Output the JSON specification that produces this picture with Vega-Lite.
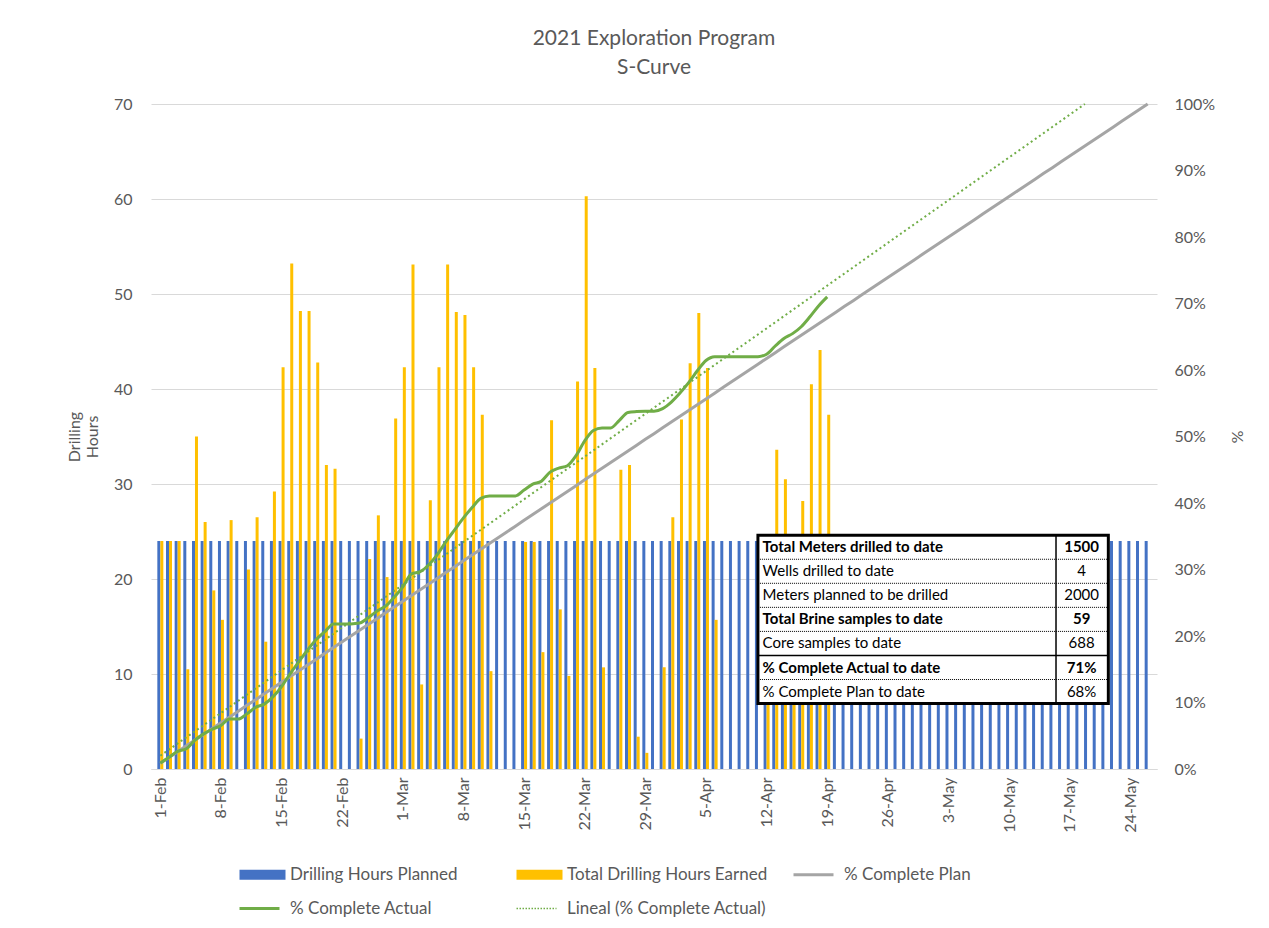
{
  "$schema": "https://vega.github.io/schema/vega-lite/v6.json",
  "width": 1006,
  "height": 665,
  "autosize": {"type": "none"},
  "padding": {"left": 151, "top": 104, "right": 112, "bottom": 159},
  "background": "white",
  "title": {"text": ["2021 Exploration Program", "S-Curve"], "anchor": "middle", "font": "Lato", "fontSize": 21, "fontWeight": "normal", "color": "#595959", "lineHeight": 29, "offset": 18, "frame": "group"},
  "config": {
    "view": {"stroke": null},
    "font": "Lato",
    "axis": {"labelFont": "Lato", "titleFont": "Lato", "labelColor": "#595959", "titleColor": "#595959", "labelFontSize": 16, "titleFontSize": 16, "titleFontWeight": "normal", "ticks": false}
  },
  "datasets": {
    "days": [
      {"d":"2021-02-01","planned":24,"earned":24,"plan":0.0087,"actual":0.0088},
      {"d":"2021-02-02","planned":24,"earned":24,"plan":0.0174,"actual":0.0177},
      {"d":"2021-02-03","planned":24,"earned":24,"plan":0.0261,"actual":0.0265},
      {"d":"2021-02-04","planned":24,"earned":10.5,"plan":0.0348,"actual":0.0304},
      {"d":"2021-02-05","planned":24,"earned":35,"plan":0.0435,"actual":0.0433},
      {"d":"2021-02-06","planned":24,"earned":26,"plan":0.0522,"actual":0.0528},
      {"d":"2021-02-07","planned":24,"earned":18.8,"plan":0.0609,"actual":0.0598},
      {"d":"2021-02-08","planned":24,"earned":15.7,"plan":0.0696,"actual":0.0655},
      {"d":"2021-02-09","planned":24,"earned":26.2,"plan":0.0783,"actual":0.0752},
      {"d":"2021-02-10","planned":24,"plan":0.0870,"actual":0.0752},
      {"d":"2021-02-11","planned":24,"earned":21,"plan":0.0957,"actual":0.0829},
      {"d":"2021-02-12","planned":24,"earned":26.5,"plan":0.1043,"actual":0.0927},
      {"d":"2021-02-13","planned":24,"earned":13.4,"plan":0.1130,"actual":0.0976},
      {"d":"2021-02-14","planned":24,"earned":29.2,"plan":0.1217,"actual":0.1084},
      {"d":"2021-02-15","planned":24,"earned":42.3,"plan":0.1304,"actual":0.1239},
      {"d":"2021-02-16","planned":24,"earned":53.2,"plan":0.1391,"actual":0.1435},
      {"d":"2021-02-17","planned":24,"earned":48.2,"plan":0.1478,"actual":0.1613},
      {"d":"2021-02-18","planned":24,"earned":48.2,"plan":0.1565,"actual":0.1790},
      {"d":"2021-02-19","planned":24,"earned":42.8,"plan":0.1652,"actual":0.1948},
      {"d":"2021-02-20","planned":24,"earned":32,"plan":0.1739,"actual":0.2066},
      {"d":"2021-02-21","planned":24,"earned":31.6,"plan":0.1826,"actual":0.2182},
      {"d":"2021-02-22","planned":24,"plan":0.1913,"actual":0.2182},
      {"d":"2021-02-23","planned":24,"plan":0.2000,"actual":0.2182},
      {"d":"2021-02-24","planned":24,"earned":3.2,"plan":0.2087,"actual":0.2194},
      {"d":"2021-02-25","planned":24,"earned":22.1,"plan":0.2174,"actual":0.2275},
      {"d":"2021-02-26","planned":24,"earned":26.7,"plan":0.2261,"actual":0.2373},
      {"d":"2021-02-27","planned":24,"earned":20.2,"plan":0.2348,"actual":0.2448},
      {"d":"2021-02-28","planned":24,"earned":36.9,"plan":0.2435,"actual":0.2584},
      {"d":"2021-03-01","planned":24,"earned":42.3,"plan":0.2522,"actual":0.2739},
      {"d":"2021-03-02","planned":24,"earned":53.1,"plan":0.2609,"actual":0.2935},
      {"d":"2021-03-03","planned":24,"earned":8.9,"plan":0.2696,"actual":0.2968},
      {"d":"2021-03-04","planned":24,"earned":28.3,"plan":0.2783,"actual":0.3072},
      {"d":"2021-03-05","planned":24,"earned":42.3,"plan":0.2870,"actual":0.3227},
      {"d":"2021-03-06","planned":24,"earned":53.1,"plan":0.2957,"actual":0.3423},
      {"d":"2021-03-07","planned":24,"earned":48.1,"plan":0.3043,"actual":0.3600},
      {"d":"2021-03-08","planned":24,"earned":47.8,"plan":0.3130,"actual":0.3776},
      {"d":"2021-03-09","planned":24,"earned":42.3,"plan":0.3217,"actual":0.3932},
      {"d":"2021-03-10","planned":24,"earned":37.3,"plan":0.3304,"actual":0.4069},
      {"d":"2021-03-11","planned":24,"earned":10.3,"plan":0.3391,"actual":0.4107},
      {"d":"2021-03-12","planned":24,"plan":0.3478,"actual":0.4107},
      {"d":"2021-03-13","planned":24,"plan":0.3565,"actual":0.4107},
      {"d":"2021-03-14","planned":24,"plan":0.3652,"actual":0.4107},
      {"d":"2021-03-15","planned":24,"earned":23.9,"plan":0.3739,"actual":0.4195},
      {"d":"2021-03-16","planned":24,"earned":23.9,"plan":0.3826,"actual":0.4283},
      {"d":"2021-03-17","planned":24,"earned":12.3,"plan":0.3913,"actual":0.4328},
      {"d":"2021-03-18","planned":24,"earned":36.7,"plan":0.4000,"actual":0.4464},
      {"d":"2021-03-19","planned":24,"earned":16.8,"plan":0.4087,"actual":0.4525},
      {"d":"2021-03-20","planned":24,"earned":9.8,"plan":0.4174,"actual":0.4561},
      {"d":"2021-03-21","planned":24,"earned":40.8,"plan":0.4261,"actual":0.4712},
      {"d":"2021-03-22","planned":24,"earned":60.3,"plan":0.4348,"actual":0.4934},
      {"d":"2021-03-23","planned":24,"earned":42.2,"plan":0.4435,"actual":0.5089},
      {"d":"2021-03-24","planned":24,"earned":10.7,"plan":0.4522,"actual":0.5128},
      {"d":"2021-03-25","planned":24,"plan":0.4609,"actual":0.5128},
      {"d":"2021-03-26","planned":24,"earned":31.5,"plan":0.4696,"actual":0.5244},
      {"d":"2021-03-27","planned":24,"earned":32,"plan":0.4783,"actual":0.5362},
      {"d":"2021-03-28","planned":24,"earned":3.4,"plan":0.4870,"actual":0.5375},
      {"d":"2021-03-29","planned":24,"earned":1.7,"plan":0.4957,"actual":0.5381},
      {"d":"2021-03-30","planned":24,"plan":0.5043,"actual":0.5381},
      {"d":"2021-03-31","planned":24,"earned":10.7,"plan":0.5130,"actual":0.5420},
      {"d":"2021-04-01","planned":24,"earned":26.5,"plan":0.5217,"actual":0.5518},
      {"d":"2021-04-02","planned":24,"earned":36.8,"plan":0.5304,"actual":0.5654},
      {"d":"2021-04-03","planned":24,"earned":42.7,"plan":0.5391,"actual":0.5811},
      {"d":"2021-04-04","planned":24,"earned":48,"plan":0.5478,"actual":0.5988},
      {"d":"2021-04-05","planned":24,"earned":42.2,"plan":0.5565,"actual":0.6143},
      {"d":"2021-04-06","planned":24,"earned":15.7,"plan":0.5652,"actual":0.6201},
      {"d":"2021-04-07","planned":24,"plan":0.5739,"actual":0.6201},
      {"d":"2021-04-08","planned":24,"plan":0.5826,"actual":0.6201},
      {"d":"2021-04-09","planned":24,"plan":0.5913,"actual":0.6201},
      {"d":"2021-04-10","planned":24,"plan":0.6000,"actual":0.6201},
      {"d":"2021-04-11","planned":24,"plan":0.6087,"actual":0.6201},
      {"d":"2021-04-12","planned":24,"earned":10,"plan":0.6174,"actual":0.6237},
      {"d":"2021-04-13","planned":24,"earned":33.6,"plan":0.6261,"actual":0.6361},
      {"d":"2021-04-14","planned":24,"earned":30.5,"plan":0.6348,"actual":0.6473},
      {"d":"2021-04-15","planned":24,"earned":20,"plan":0.6435,"actual":0.6547},
      {"d":"2021-04-16","planned":24,"earned":28.2,"plan":0.6522,"actual":0.6651},
      {"d":"2021-04-17","planned":24,"earned":40.5,"plan":0.6609,"actual":0.6800},
      {"d":"2021-04-18","planned":24,"earned":44.1,"plan":0.6696,"actual":0.6963},
      {"d":"2021-04-19","planned":24,"earned":37.3,"plan":0.6783,"actual":0.7100},
      {"d":"2021-04-20","planned":24,"plan":0.6870},
      {"d":"2021-04-21","planned":24,"plan":0.6957},
      {"d":"2021-04-22","planned":24,"plan":0.7043},
      {"d":"2021-04-23","planned":24,"plan":0.7130},
      {"d":"2021-04-24","planned":24,"plan":0.7217},
      {"d":"2021-04-25","planned":24,"plan":0.7304},
      {"d":"2021-04-26","planned":24,"plan":0.7391},
      {"d":"2021-04-27","planned":24,"plan":0.7478},
      {"d":"2021-04-28","planned":24,"plan":0.7565},
      {"d":"2021-04-29","planned":24,"plan":0.7652},
      {"d":"2021-04-30","planned":24,"plan":0.7739},
      {"d":"2021-05-01","planned":24,"plan":0.7826},
      {"d":"2021-05-02","planned":24,"plan":0.7913},
      {"d":"2021-05-03","planned":24,"plan":0.8000},
      {"d":"2021-05-04","planned":24,"plan":0.8087},
      {"d":"2021-05-05","planned":24,"plan":0.8174},
      {"d":"2021-05-06","planned":24,"plan":0.8261},
      {"d":"2021-05-07","planned":24,"plan":0.8348},
      {"d":"2021-05-08","planned":24,"plan":0.8435},
      {"d":"2021-05-09","planned":24,"plan":0.8522},
      {"d":"2021-05-10","planned":24,"plan":0.8609},
      {"d":"2021-05-11","planned":24,"plan":0.8696},
      {"d":"2021-05-12","planned":24,"plan":0.8783},
      {"d":"2021-05-13","planned":24,"plan":0.8870},
      {"d":"2021-05-14","planned":24,"plan":0.8957},
      {"d":"2021-05-15","planned":24,"plan":0.9043},
      {"d":"2021-05-16","planned":24,"plan":0.9130},
      {"d":"2021-05-17","planned":24,"plan":0.9217},
      {"d":"2021-05-18","planned":24,"plan":0.9304},
      {"d":"2021-05-19","planned":24,"plan":0.9391},
      {"d":"2021-05-20","planned":24,"plan":0.9478},
      {"d":"2021-05-21","planned":24,"plan":0.9565},
      {"d":"2021-05-22","planned":24,"plan":0.9652},
      {"d":"2021-05-23","planned":24,"plan":0.9739},
      {"d":"2021-05-24","planned":24,"plan":0.9826},
      {"d":"2021-05-25","planned":24,"plan":0.9913},
      {"d":"2021-05-26","planned":24,"plan":1.0}
    ],
    "trend": [
      {"d":"2021-02-01","trend":0.02},
      {"d":"2021-05-18T18:00:00Z","trend":1.0}
    ],
    "table": [
      {"row":1,"label":"Total Meters drilled to date","value":"1500"},
      {"row":2,"label":"Wells drilled to date","value":"4"},
      {"row":3,"label":"Meters planned to be drilled","value":"2000"},
      {"row":4,"label":"Total Brine samples to date","value":"59"},
      {"row":5,"label":"Core samples to date","value":"688"},
      {"row":6,"label":"% Complete Actual to date","value":"71%"},
      {"row":7,"label":"% Complete Plan to date","value":"68%"}
    ]
  },
  "data": {"name": "days"},
  "layer": [
    {
      "layer": [
        {
          "mark": {"type": "bar", "width": 3, "xOffset": -1.5},
          "encoding": {
            "x": {"field": "d", "type": "temporal",
              "scale": {"type": "utc", "domain": [{"year":2021,"month":1,"date":31,"hours":12,"utc":true},{"year":2021,"month":5,"date":26,"hours":12,"utc":true}]},
              "axis": {"title": null, "format": "%-d-%b", "labelAngle": -90, "labelPadding": 8, "labelOverlap": false, "grid": false, "domainColor": "#D9D9D9", "domainWidth": 1,
                "values": [
                  {"year":2021,"month":2,"date":1,"utc":true},{"year":2021,"month":2,"date":8,"utc":true},{"year":2021,"month":2,"date":15,"utc":true},{"year":2021,"month":2,"date":22,"utc":true},
                  {"year":2021,"month":3,"date":1,"utc":true},{"year":2021,"month":3,"date":8,"utc":true},{"year":2021,"month":3,"date":15,"utc":true},{"year":2021,"month":3,"date":22,"utc":true},{"year":2021,"month":3,"date":29,"utc":true},
                  {"year":2021,"month":4,"date":5,"utc":true},{"year":2021,"month":4,"date":12,"utc":true},{"year":2021,"month":4,"date":19,"utc":true},{"year":2021,"month":4,"date":26,"utc":true},
                  {"year":2021,"month":5,"date":3,"utc":true},{"year":2021,"month":5,"date":10,"utc":true},{"year":2021,"month":5,"date":17,"utc":true},{"year":2021,"month":5,"date":24,"utc":true}
                ]}},
            "y": {"field": "planned", "type": "quantitative", "title": ["Drilling", "Hours"],
              "scale": {"domain": [0, 70], "nice": false},
              "axis": {"orient": "left", "values": [0,10,20,30,40,50,60,70], "grid": true, "gridColor": "#D9D9D9", "domain": false, "labelPadding": 19, "titlePadding": 13}},
            "color": {"datum": "Drilling Hours Planned",
              "scale": {"domain": ["Drilling Hours Planned", "Total Drilling Hours Earned", "% Complete Plan", "% Complete Actual", "Lineal (% Complete Actual)"],
                        "range": ["#4472C4", "#FFC000", "#A5A5A5", "#70AD47", "#70AD47"]},
              "legend": {
                "title": null, "orient": "none", "legendX": 90, "legendY": 762, "direction": "horizontal", "columns": 3, "gridAlign": "all",
                "columnPadding": 19, "rowPadding": 16, "padding": 0,
                "symbolSize": 400, "symbolType": "M-1,-0.5H3.6V0.5H-1Z", "labelOffset": 32,
                "labelFont": "Lato", "labelFontSize": 17, "labelColor": "#595959", "labelLimit": 400,
                "encode": {"symbols": {"update": {
                  "shape": {"signal": "(datum.value == 'Drilling Hours Planned' || datum.value == 'Total Drilling Hours Earned') ? 'M-1,-0.5H3.6V0.5H-1Z' : 'M-1,0H3'"},
                  "fill": {"signal": "datum.value == 'Drilling Hours Planned' ? '#4472C4' : (datum.value == 'Total Drilling Hours Earned' ? '#FFC000' : 'transparent')"},
                  "stroke": {"signal": "datum.value == '% Complete Plan' ? '#A5A5A5' : ((datum.value == '% Complete Actual' || datum.value == 'Lineal (% Complete Actual)') ? '#70AD47' : 'transparent')"},
                  "strokeWidth": {"signal": "datum.value == 'Lineal (% Complete Actual)' ? 1.5 : ((datum.value == 'Drilling Hours Planned' || datum.value == 'Total Drilling Hours Earned') ? 0 : 3)"},
                  "strokeDash": {"signal": "datum.value == 'Lineal (% Complete Actual)' ? [1.5, 1.5] : [1, 0]"},
                  "strokeCap": {"value": "butt"},
                  "opacity": {"value": 1}
                }}}
              }}
          }
        },
        {
          "mark": {"type": "bar", "width": 3, "xOffset": 1.5},
          "encoding": {
            "x": {"field": "d", "type": "temporal"},
            "y": {"field": "earned", "type": "quantitative", "title": ["Drilling", "Hours"]},
            "color": {"datum": "Total Drilling Hours Earned"}
          }
        }
      ]
    },
    {
      "data": {"name": "table"},
      "encoding": {
        "y": {"field": "row", "type": "quantitative", "scale": {"domain": [-17.43, 10.22], "reverse": true, "nice": false, "zero": false}, "axis": null}
      },
      "layer": [
        {
          "transform": [{"filter": "datum.row == 1"}],
          "mark": {"type": "rect", "fill": "white", "stroke": "black", "strokeWidth": 3},
          "encoding": {
            "x": {"datum": {"year":2021,"month":4,"date":11,"utc":true}, "type": "temporal"},
            "x2": {"datum": {"year":2021,"month":5,"date":21,"hours":11,"utc":true}},
            "y": {"datum": 0.5, "type": "quantitative"},
            "y2": {"datum": 7.5}
          }
        },
        {
          "transform": [{"filter": "datum.row <= 6 && datum.row != 5"}],
          "mark": {"type": "rule", "color": "black", "strokeWidth": 1, "strokeDash": [1, 1], "yOffset": 12},
          "encoding": {
            "x": {"datum": {"year":2021,"month":4,"date":11,"utc":true}, "type": "temporal"},
            "x2": {"datum": {"year":2021,"month":5,"date":21,"hours":11,"utc":true}}
          }
        },
        {
          "transform": [{"filter": "datum.row == 5"}],
          "mark": {"type": "rule", "color": "black", "strokeWidth": 1.5, "yOffset": 12},
          "encoding": {
            "x": {"datum": {"year":2021,"month":4,"date":11,"utc":true}, "type": "temporal"},
            "x2": {"datum": {"year":2021,"month":5,"date":21,"hours":11,"utc":true}}
          }
        },
        {
          "transform": [{"filter": "datum.row == 1"}],
          "mark": {"type": "rule", "color": "black", "strokeWidth": 1.5},
          "encoding": {
            "x": {"datum": {"year":2021,"month":5,"date":15,"hours":10,"utc":true}, "type": "temporal"},
            "y": {"datum": 0.5, "type": "quantitative"},
            "y2": {"datum": 7.5}
          }
        },
        {
          "transform": [{"filter": "indexof([1,4,6], datum.row) >= 0"}],
          "mark": {"type": "text", "align": "left", "baseline": "middle", "font": "Lato", "fontSize": 15, "fontWeight": "bold", "color": "black"},
          "encoding": {
            "x": {"datum": {"year":2021,"month":4,"date":11,"hours":13,"utc":true}, "type": "temporal"},
            "text": {"field": "label"}
          }
        },
        {
          "transform": [{"filter": "indexof([1,4,6], datum.row) < 0"}],
          "mark": {"type": "text", "align": "left", "baseline": "middle", "font": "Lato", "fontSize": 15, "fontWeight": "normal", "color": "black"},
          "encoding": {
            "x": {"datum": {"year":2021,"month":4,"date":11,"hours":13,"utc":true}, "type": "temporal"},
            "text": {"field": "label"}
          }
        },
        {
          "transform": [{"filter": "indexof([1,4,6], datum.row) >= 0"}],
          "mark": {"type": "text", "align": "center", "baseline": "middle", "font": "Lato", "fontSize": 15, "fontWeight": "bold", "color": "black"},
          "encoding": {
            "x": {"datum": {"year":2021,"month":5,"date":18,"hours":9,"utc":true}, "type": "temporal"},
            "text": {"field": "value"}
          }
        },
        {
          "transform": [{"filter": "indexof([1,4,6], datum.row) < 0"}],
          "mark": {"type": "text", "align": "center", "baseline": "middle", "font": "Lato", "fontSize": 15, "fontWeight": "normal", "color": "black"},
          "encoding": {
            "x": {"datum": {"year":2021,"month":5,"date":18,"hours":9,"utc":true}, "type": "temporal"},
            "text": {"field": "value"}
          }
        }
      ]
    },
    {
      "layer": [
        {
          "mark": {"type": "line", "strokeWidth": 3},
          "encoding": {
            "x": {"field": "d", "type": "temporal"},
            "y": {"field": "plan", "type": "quantitative", "title": "%",
              "scale": {"domain": [0, 1], "nice": false},
              "axis": {"orient": "right", "format": ".0%", "values": [0,0.1,0.2,0.3,0.4,0.5,0.6,0.7,0.8,0.9,1], "grid": false, "domain": false, "labelPadding": 17, "titlePadding": 14}},
            "color": {"datum": "% Complete Plan"}
          }
        },
        {
          "mark": {"type": "line", "strokeWidth": 3, "interpolate": "monotone"},
          "encoding": {
            "x": {"field": "d", "type": "temporal"},
            "y": {"field": "actual", "type": "quantitative", "title": "%"},
            "color": {"datum": "% Complete Actual"}
          }
        },
        {
          "data": {"name": "trend"},
          "mark": {"type": "line", "strokeWidth": 2, "strokeDash": [2, 3]},
          "encoding": {
            "x": {"field": "d", "type": "temporal"},
            "y": {"field": "trend", "type": "quantitative", "title": "%"},
            "color": {"datum": "Lineal (% Complete Actual)"}
          }
        }
      ]
    }
  ],
  "resolve": {"scale": {"y": "independent"}, "axis": {"y": "independent"}}
}
